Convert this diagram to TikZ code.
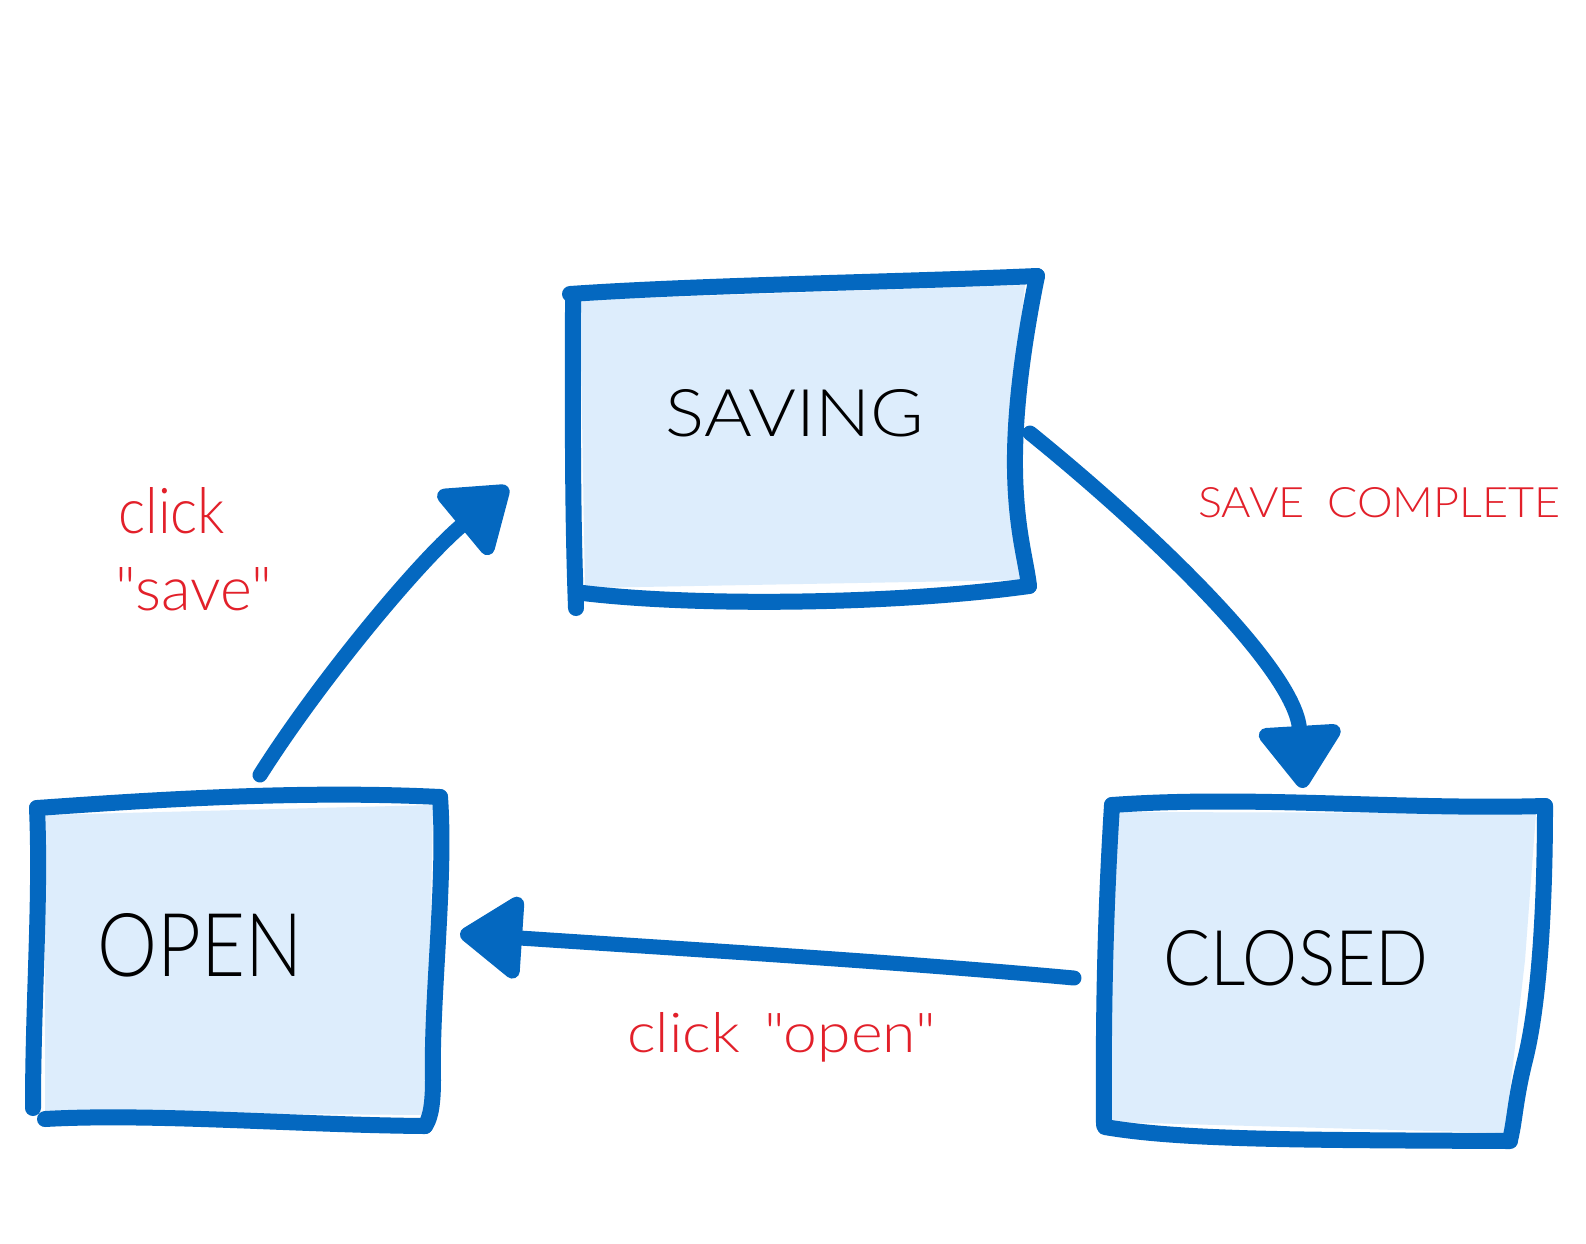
\documentclass[tikz,border=0pt]{standalone}
\usepackage{fontspec}
\setmainfont{Lato}
\newfontfamily\thinfont{Lato}[UprightFont={* Light}]
\usepackage{graphicx}
\usetikzlibrary{arrows.meta}
\definecolor{sketchblue}{HTML}{0468C0}
\definecolor{sketchfill}{HTML}{DDEDFC}
\definecolor{labelred}{HTML}{E2202A}
\begin{document}
\begin{tikzpicture}[x=1pt,y=-1pt,
  outline/.style={draw=sketchblue,line width=16pt,line cap=round,line join=round},
  boxfill/.style={fill=sketchfill,draw=none},
  connector/.style={draw=sketchblue,line width=15pt,line cap=round,line join=round,
    -{Triangle[length=68pt,width=92pt,round]}},
  statetext/.style={inner sep=0pt,text=black,font=\thinfont},
  edgelabel/.style={inner sep=0pt,text=labelred,font=\thinfont},
  statearea/.style={draw=none,fill=none,inner sep=0pt}]
\fill[white] (0,0) rectangle (1586,1243);
\useasboundingbox (0,0) rectangle (1586,1243);

% state areas (named)
\node[statearea,minimum width=465pt,minimum height=320pt] (saving) at (803,440) {};
\node[statearea,minimum width=405pt,minimum height=320pt] (open) at (237,962) {};
\node[statearea,minimum width=440pt,minimum height=335pt] (closed) at (1325,972) {};

% SAVING box
\fill[boxfill] (580,300) -- (1025,285) -- (1012,400) -- (1014,500) -- (1020,580) -- (585,588) -- cycle;
\draw[outline] (570,294) .. controls (700,285) and (900,282) .. (1037,276);
\draw[outline] (1037,276) .. controls (1024,340) and (1014,410) .. (1015,470) .. controls (1016,530) and (1026,560) .. (1029,586);
\draw[outline] (583,593) .. controls (700,607) and (900,604) .. (1029,586);
\draw[outline] (573,294) .. controls (573,400) and (572,500) .. (576,608);

% OPEN box
\fill[boxfill] (45,815) -- (433,805) -- (427,1115) -- (45,1112) -- cycle;
\draw[outline] (37,808) .. controls (150,800) and (300,790) .. (440,797);
\draw[outline] (440,797) .. controls (446,880) and (431,1000) .. (433,1080) .. controls (433,1110) and (429,1120) .. (425,1126);
\draw[outline] (45,1119) .. controls (150,1113) and (300,1125) .. (425,1126);
\draw[outline] (37,808) .. controls (41,900) and (33,1000) .. (33,1108);

% CLOSED box
\fill[boxfill] (1115,812) -- (1536,813) -- (1525,960) -- (1505,1133) -- (1110,1122) -- cycle;
\draw[outline] (1112,805) .. controls (1250,795) and (1400,810) .. (1545,806);
\draw[outline] (1545,806) .. controls (1545,900) and (1540,1000) .. (1525,1060) .. controls (1515,1100) and (1515,1120) .. (1510,1140);
\draw[outline] (1105,1127) .. controls (1180,1140) and (1300,1140) .. (1510,1141);
\draw[outline] (1112,805) .. controls (1106,900) and (1103,1000) .. (1104,1125);

% state texts
\node[statetext] (savingtext) at (795,413) {\resizebox{258pt}{47pt}{SAVING}};
\node[statetext] (opentext) at (200,945) {\resizebox{205pt}{63pt}{OPEN}};
\node[statetext] (closedtext) at (1296,958) {\resizebox{265pt}{55pt}{CLOSED}};

% connector end points
\coordinate (a1s) at (1030,433);
\coordinate (a1e) at (1303,788);
\coordinate (a2s) at (260,775);
\coordinate (a2e) at (508,487);
\coordinate (a3s) at (1074,978);
\coordinate (a3e) at (460,934);

\draw[connector] (a1s) .. controls (1150,530) and (1296,670) .. (a1e);
\draw[connector] (a2s) .. controls (320,680) and (420,560) .. (a2e);
\draw[connector] (a3s) .. controls (900,962) and (700,950) .. (a3e);

% labels
\node[edgelabel,anchor=base west] (lblcomplete) at (1198,517) {\resizebox{362pt}{30pt}{SAVE\hspace{0.5em}COMPLETE}};
\node[edgelabel,anchor=base west] (lblclick) at (118,533) {\resizebox{107pt}{46pt}{click}};
\node[edgelabel,anchor=base west] (lblsave) at (115,610) {\resizebox{157pt}{43pt}{"save"}};
\node[edgelabel,anchor=base west] (lblopen) at (627,1052) {\resizebox{309pt}{40pt}{click\hspace{0.4em}"open"}};
\end{tikzpicture}
\end{document}
